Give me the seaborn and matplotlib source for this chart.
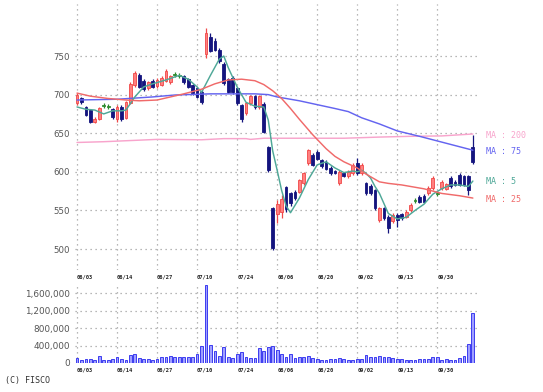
import numpy as np
import pandas as pd
import matplotlib
matplotlib.use("Agg")
import matplotlib.pyplot as plt
import seaborn as sns

# ---------------- data ----------------
date_labels = ["06/03", "06/14", "06/27", "07/10", "07/24",
               "08/06", "08/20", "09/02", "09/13", "09/30"]
date_pos = [0, 9, 18, 27, 36, 45, 54, 63, 72, 81]

opens = [689, 695, 684, 680, 665, 668, 686, 685, 682, 668,
         684, 670, 689, 712, 726, 718, 708, 718, 711, 713,
         718, 716, 726, 725, 724, 720, 712, 708, 704, 752,
         775, 770, 758, 740, 720, 722, 708, 686, 676, 689,
         698, 684, 688, 632, 553, 545, 548, 580, 572, 574,
         574, 585, 611, 622, 626, 615, 613, 605, 601, 586,
         598, 594, 598, 612, 598, 585, 582, 576, 538, 553,
         542, 536, 544, 545, 542, 550, 563, 568, 569, 572,
         579, 572, 579, 578, 592, 587, 596, 594, 594, 632]
highs = [702, 697, 685, 681, 671, 684, 689, 688, 683, 686,
         686, 692, 716, 731, 728, 720, 718, 720, 721, 724,
         733, 726, 729, 728, 726, 722, 714, 710, 706, 786,
         780, 773, 760, 742, 722, 724, 710, 688, 690, 699,
         700, 699, 690, 634, 555, 563, 570, 582, 574, 576,
         591, 600, 630, 624, 628, 617, 615, 607, 602, 602,
         600, 602, 611, 618, 611, 587, 584, 578, 555, 555,
         544, 546, 546, 547, 550, 559, 566, 570, 571, 581,
         594, 575, 589, 586, 594, 589, 598, 596, 596, 648]
lows = [687, 688, 672, 663, 663, 667, 683, 682, 669, 665,
        666, 668, 688, 710, 708, 705, 706, 708, 709, 711,
        716, 714, 723, 722, 714, 708, 700, 695, 688, 748,
        755, 756, 741, 712, 702, 701, 686, 664, 674, 687,
        682, 682, 650, 600, 499, 534, 540, 548, 556, 564,
        572, 583, 609, 607, 615, 605, 602, 596, 597, 583,
        593, 592, 596, 596, 596, 570, 570, 551, 535, 538,
        521, 534, 529, 538, 540, 548, 560, 559, 559, 570,
        577, 569, 577, 576, 579, 581, 581, 581, 570, 610]
closes = [700, 690, 674, 665, 669, 683, 686, 685, 671, 684,
          668, 690, 714, 728, 710, 707, 716, 710, 719, 722,
          730, 724, 726, 725, 716, 710, 702, 697, 690, 780,
          757, 758, 743, 715, 704, 703, 689, 668, 689, 698,
          684, 698, 652, 602, 501, 558, 565, 552, 560, 566,
          589, 598, 628, 609, 617, 607, 604, 598, 599, 600,
          595, 600, 609, 598, 609, 572, 572, 553, 553, 540,
          527, 544, 538, 540, 548, 557, 563, 561, 561, 579,
          592, 572, 587, 584, 581, 583, 583, 583, 576, 613]
volumes = [111, 74, 89, 96, 59, 155, 74, 74, 96, 148,
           89, 74, 193, 207, 104, 89, 96, 74, 81, 148,
           148, 155, 133, 133, 133, 133, 148, 207, 393, 1780,
           415, 281, 170, 355, 148, 118, 207, 244, 148, 111,
           111, 340, 281, 370, 393, 303, 207, 133, 207, 118,
           133, 133, 155, 118, 96, 74, 74, 81, 96, 118,
           96, 59, 59, 89, 96, 193, 133, 148, 170, 133,
           148, 118, 81, 89, 74, 59, 74, 81, 81, 96,
           133, 133, 74, 96, 74, 74, 118, 155, 430, 1133]  # thousands

ma5_idx = [0, 2, 4, 6, 8, 10, 11, 13, 15, 17, 20, 23, 25, 27, 28, 30, 32, 33,
           34, 36, 38, 40, 42, 43, 44, 45, 46, 47, 48, 50, 52, 54, 56, 58, 60,
           62, 63, 64, 65, 66, 67, 68, 70, 72, 74, 76, 78, 80, 82, 84, 86, 88, 89]
ma5_val = [684, 681, 680, 675, 679, 679, 680, 697, 710, 714, 719, 725, 720, 710,
           703, 725, 746, 750, 735, 710, 690, 685, 684, 667, 627, 602, 576, 556,
           547, 566, 590, 609, 613, 605, 599, 601, 600, 602, 598, 592, 581, 572,
           546, 539, 541, 550, 558, 571, 578, 583, 583, 581, 588]
ma25_idx = [0, 3, 7, 11, 14, 18, 21, 24, 28, 31, 34, 37, 40, 42, 44, 46, 48,
            50, 53, 56, 58, 60, 63, 65, 68, 70, 73, 78, 82, 86, 89]
ma25_val = [702, 698, 695, 693, 692, 693, 697, 701, 707, 714, 719, 720, 718,
            713, 705, 695, 682, 668, 648, 630, 620, 613, 605, 597, 587, 585,
            583, 578, 572, 569, 566]
ma75_idx = [0, 9, 17, 22, 30, 40, 43, 45, 50, 54, 58, 61, 64, 68, 72, 77, 81, 85, 89]
ma75_val = [693, 694, 697, 699.5, 701, 701, 700, 697, 692, 687, 682, 678, 670,
            662, 653, 646, 640, 634, 628]
ma200_idx = [0, 6, 10, 18, 28, 33, 38, 39, 42, 50, 60, 68, 75, 82, 89]
ma200_val = [638, 639, 640, 642, 641.5, 643, 643, 642, 643.5, 643.5, 643.5,
             645, 646, 646.5, 649]

ma_labels = ["MA : 200", "MA : 75", "MA : 5", "MA : 25"]
ma_colors = ["#f8a4cc", "#6464f0", "#4fa898", "#f06a6a"]

# ---------------- style ----------------
sns.set_style("white")
plt.rcParams["font.family"] = ["DejaVu Sans"]

W, H = 543, 392
fig = plt.figure(figsize=(W / 100, H / 100), dpi=100)

def frac_box(x0, y0, x1, y1):
    return [x0 / W, 1 - y1 / H, (x1 - x0) / W, (y1 - y0) / H]

ax = fig.add_axes(frac_box(74.8, 4, 477.3, 270))
axv = fig.add_axes(frac_box(74.8, 283, 477.3, 363))

grid_kw = dict(color="#a0a0a0", linewidth=0.9, linestyle=(0, (1, 3)))

# ---------------- main chart ----------------
idx = np.arange(len(closes))
up_col, up_edge = "#ff8080", "#f04848"
dn_col = "#14147e"
eq_col = "#2e8a2e"

for i in idx:
    o, h, l, c = opens[i], highs[i], lows[i], closes[i]
    if c > o:
        fc, ec = up_col, up_edge
    elif c < o:
        fc, ec = dn_col, dn_col
    else:
        fc, ec = eq_col, eq_col
    ax.vlines(i, l, h, color=ec, linewidth=0.9, zorder=3)
    ax.bar(i, max(abs(c - o), 1.0), bottom=min(o, c) - (0.5 if c == o else 0),
           width=0.62, color=fc, edgecolor=ec, linewidth=0.6, zorder=4)

ma_sets = [(ma200_idx, ma200_val), (ma75_idx, ma75_val),
           (ma5_idx, ma5_val), (ma25_idx, ma25_val)]
for (mi, mv), col in zip(ma_sets, ma_colors):
    df = pd.DataFrame({"i": mi, "v": mv})
    sns.lineplot(data=df, x="i", y="v", ax=ax, color=col, linewidth=1.05,
                 zorder=5, legend=False)

ax.set_xlim(-0.5, 90.0)
ax.set_ylim(472.8, 817.4)
ax.set_yticks([500, 550, 600, 650, 700, 750])
ax.set_xticks(date_pos)
ax.set_xticklabels(date_labels)
ax.set_xlabel("")
ax.set_ylabel("")
for a in (ax, axv):
    for s in a.spines.values():
        s.set_visible(False)
    a.tick_params(length=0)
    a.grid(True, **grid_kw)
    a.set_axisbelow(True)

ax.tick_params(axis="y", labelsize=6.2, labelcolor="#555555", pad=3.5)
ax.tick_params(axis="x", labelsize=3.9, labelcolor="#222222", pad=3.0)
for lab in ax.get_xticklabels():
    lab.set_ha("left")
    lab.set_family("DejaVu Sans Mono")
    lab.set_weight("bold")

# MA labels on the right
label_y = [135, 152, 181, 200]
for txt, col, yy in zip(ma_labels, ma_colors, label_y):
    fig.text(486 / W, 1 - yy / H, txt, color=col, fontsize=6.0,
             family="DejaVu Sans Mono", va="center", ha="left")

# ---------------- volume ----------------
axv.bar(idx, np.array(volumes) * 1000, width=0.62, color="#a0a0ff",
        edgecolor="#3c3cf0", linewidth=0.7, zorder=3)
axv.set_xlim(-0.5, 90.0)
axv.set_ylim(0, 1_830_000)
axv.set_yticks([0, 400000, 800000, 1200000, 1600000])
axv.set_yticklabels(["0", "400,000", "800,000", "1,200,000", "1,600,000"])
axv.set_xticks(date_pos)
axv.set_xticklabels(date_labels)
axv.tick_params(axis="y", labelsize=6.4, labelcolor="#555555", pad=3.5)
axv.tick_params(axis="x", labelsize=3.9, labelcolor="#222222", pad=3.0)
for lab in axv.get_xticklabels():
    lab.set_ha("left")
    lab.set_family("DejaVu Sans Mono")
    lab.set_weight("bold")
axv.yaxis.get_gridlines()[0].set_visible(False)

fig.text(5 / W, 1 - 380 / H, "(C) FISCO", fontsize=6.0, color="#333333",
         family="DejaVu Sans Mono", va="center", ha="left")

fig.savefig("out.png", dpi=100)
